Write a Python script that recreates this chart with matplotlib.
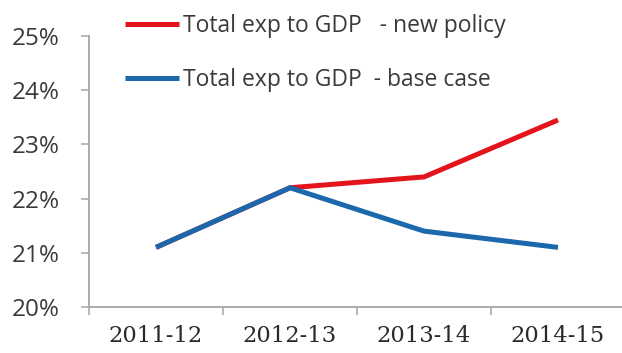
import matplotlib.pyplot as plt
from matplotlib.ticker import FuncFormatter

years = ["2011-12", "2012-13", "2013-14", "2014-15"]
new_policy = [21.1, 22.2, 22.4, 23.45]
base_case = [21.1, 22.2, 21.4, 21.1]
y_ticks = [20, 21, 22, 23, 24, 25]

RED = "#e3141b"
BLUE = "#1c68ad"
AXIS = "#a6a6a6"
TXT = "#3a3a3a"

W, H = 622, 353
fig = plt.figure(figsize=(W / 100, H / 100), dpi=100)
ax = fig.add_axes([89 / W, 1 - 307 / H, 536 / W, 271 / H])

x = range(len(years))
ax.plot(x, new_policy, color=RED, linewidth=3.6, solid_capstyle="butt",
        label="Total exp to GDP   - new policy")
ax.plot(x, base_case, color=BLUE, linewidth=3.6, solid_capstyle="butt",
        label="Total exp to GDP  - base case")

ax.set_xlim(-0.5, 3.5)
ax.set_ylim(20, 25)
ax.set_yticks(y_ticks)
ax.yaxis.set_major_formatter(FuncFormatter(lambda v, _: f"{v:.0f}%"))
# boundary ticks between categories, labels centred on categories
ax.set_xticks([i - 0.5 for i in range(len(years) + 1)])
ax.set_xticklabels([])
ax.set_xticks(list(x), minor=True)
ax.set_xticklabels(years, minor=True, family="DejaVu Serif", fontsize=16.3,
                   color="#2a2a2a")
ax.tick_params(axis="x", which="minor", length=0, pad=13)
ax.tick_params(axis="x", which="major", length=6, width=1.1, color=AXIS)
ax.tick_params(axis="y", length=6, width=1.1, color=AXIS, pad=15,
               labelsize=17.5, labelcolor=TXT)
for lbl in ax.get_yticklabels():
    lbl.set_family("Open Sans")

for side in ["top", "right"]:
    ax.spines[side].set_visible(False)
for side in ["left", "bottom"]:
    ax.spines[side].set_color(AXIS)
    ax.spines[side].set_linewidth(1.3)

fig.legend(loc="upper left", bbox_to_anchor=(125 / W, 1 - 14 / H), frameon=False,
           borderpad=0, borderaxespad=0, handlelength=2.35, handletextpad=0.2,
           labelspacing=1.3, prop={"family": "Open Sans", "size": 16.5},
           labelcolor=TXT)

fig.savefig("out.png", dpi=100)
